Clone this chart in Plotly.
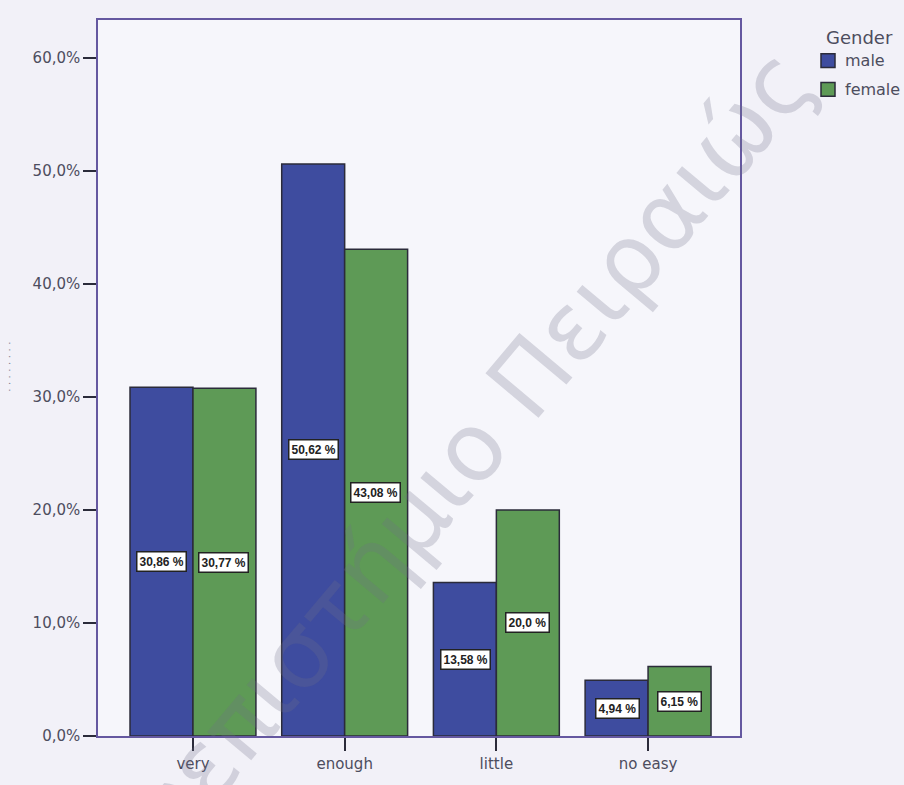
import plotly.graph_objects as go

# Categories and percentages by gender
categories = ["very", "enough", "little", "no easy"]
genders = ["male", "female"]
male = [30.86, 50.62, 13.58, 4.94]
female = [30.77, 43.08, 20.0, 6.15]
male_labels = ["30,86 %", "50,62 %", "13,58 %", "4,94 %"]
female_labels = ["30,77 %", "43,08 %", "20,0 %", "6,15 %"]
y_ticks = [0, 10, 20, 30, 40, 50, 60]
y_tick_labels = ["0,0%", "10,0%", "20,0%", "30,0%", "40,0%", "50,0%", "60,0%"]

BLUE = "#3e4c9f"
GREEN = "#5e9a56"
FRAME = "#6558a0"
EDGE = "#2b2b3a"
TEXT = "#4d4d5e"
TICK_FONT = "DejaVu Sans"

W, H = 904, 785
ML, MR, MT, MB = 98, 164, 20, 43
PW, PH = W - ML - MR, H - MT - MB


def px_x(px):
    return (px - ML) / PW


def px_y(py):
    return (H - MB - py) / PH


fig = go.Figure()
for name, vals, col in ((genders[0], male, BLUE), (genders[1], female, GREEN)):
    fig.add_trace(go.Bar(
        x=categories, y=vals, name=name, showlegend=False,
        marker=dict(color=col, line=dict(color=EDGE, width=1.5)),
    ))

# Boxed value labels at mid-height of each bar
bar_px = 31
for cat, m, f, ml, fl in zip(categories, male, female, male_labels, female_labels):
    for val, txt, shift in ((m, ml, -bar_px), (f, fl, bar_px)):
        fig.add_annotation(
            x=cat, y=val / 2, xref="x", yref="y", text="<b>" + txt + "</b>",
            showarrow=False, xshift=shift,
            font=dict(family="Arial", size=12, color="#222"),
            bgcolor="white", bordercolor="#222", borderwidth=1.5, borderpad=2,
        )

# Legend: heading, colour swatches and names
fig.add_annotation(
    x=px_x(824), y=px_y(25), xref="paper", yref="paper", text="Gender",
    xanchor="left", yanchor="top", showarrow=False,
    font=dict(family=TICK_FONT, size=18, color=TEXT),
)
for i, (name, col) in enumerate(zip(genders, [BLUE, GREEN])):
    cy = 61 + 29 * i
    fig.add_shape(
        type="rect", xref="paper", yref="paper",
        x0=px_x(821), x1=px_x(835), y0=px_y(cy + 7), y1=px_y(cy - 7),
        fillcolor=col, line=dict(color=EDGE, width=1.5),
    )
    fig.add_annotation(
        x=px_x(843), y=px_y(cy), xref="paper", yref="paper", text=name,
        xanchor="left", yanchor="middle", showarrow=False,
        font=dict(family=TICK_FONT, size=16, color=TEXT),
    )

# Faint vertical axis caption
fig.add_annotation(
    x=px_x(9), y=px_y(370), xref="paper", yref="paper",
    text="· · · · · · · ·", textangle=-90, showarrow=False,
    xanchor="center", yanchor="middle",
    font=dict(family="Arial", size=11, color="#808090"),
)

# Diagonal watermark
fig.add_annotation(
    x=px_x(430), y=px_y(500), xref="paper", yref="paper",
    text="Πανεπιστήμιο Πειραιώς", textangle=-50, showarrow=False,
    xanchor="center", yanchor="middle",
    font=dict(family="DejaVu Sans", size=95, color="rgba(110,110,135,0.25)"),
)

fig.update_layout(
    width=W, height=H,
    margin=dict(l=ML, r=MR, t=MT, b=MB),
    paper_bgcolor="#f2f1f8", plot_bgcolor="#f6f6fb",
    barmode="group", bargap=0.17, bargroupgap=0,
    font=dict(family="Arial", size=12, color=TEXT),
    xaxis=dict(
        type="category", range=[-0.626, 3.606],
        showline=True, linecolor=FRAME, linewidth=1.5, mirror=True,
        ticks="outside", ticklen=13, tickcolor=EDGE, tickwidth=1.5,
        showgrid=False, tickfont=dict(family=TICK_FONT, size=15, color=TEXT),
    ),
    yaxis=dict(
        range=[0, 63.36], tickmode="array", tickvals=y_ticks,
        ticktext=y_tick_labels,
        showline=True, linecolor=FRAME, linewidth=1.5, mirror=True,
        ticks="outside", ticklen=13, tickcolor=EDGE, tickwidth=1.5,
        showgrid=False, zeroline=False,
        tickfont=dict(family=TICK_FONT, size=15, color=TEXT),
    ),
)

fig.write_html("out.html")
